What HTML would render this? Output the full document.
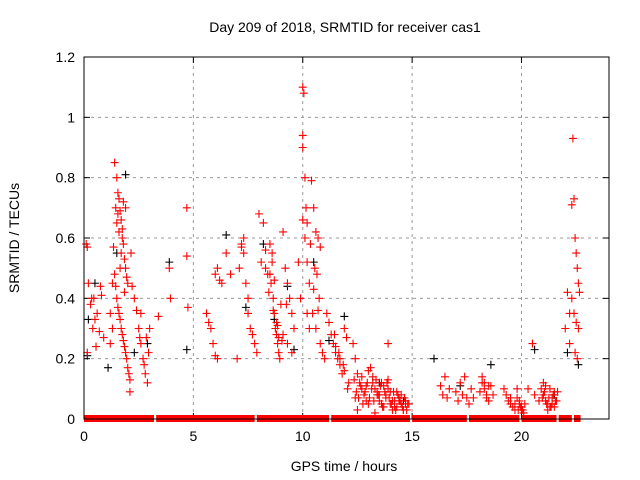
<!DOCTYPE html>
<html><head><meta charset="utf-8"><style>
body{margin:0;background:#fff}
svg{display:block;font-family:"Liberation Sans",sans-serif}
</style></head><body>
<svg id="chart" width="640" height="480" viewBox="0 0 640 480">
<text x="345" y="32" font-size="14" text-anchor="middle">Day 209 of 2018, SRMTID for receiver cas1</text>
<text x="344" y="471" font-size="14" text-anchor="middle">GPS time / hours</text>
<text transform="translate(19,238) rotate(-90)" font-size="14" text-anchor="middle">SRMTID / TECUs</text>
<g id="grid"></g>
<g id="ticks"></g>
<g id="marks"></g>
<rect x="84" y="57" width="525" height="362" fill="none" stroke="#000" stroke-width="1"/>
</svg>
<script>
const xTicks=[0,5,10,15,20];
const yTicks=[0,0.2,0.4,0.6,0.8,1,1.2];
const yTickLabels=["0","0.2","0.4","0.6","0.8","1","1.2"];
const zeroRuns=[[0,3.2],[3.3,7.8],[7.9,11.2],[11.3,14.9],[15,17.5],[17.6,19.9],[20,21.6],[21.7,22.3],[22.4,22.7]];
const redEarly=[[0.1,0.58],[0.15,0.57],[0.2,0.45],[0.3,0.38],[0.35,0.40],[0.4,0.30],[0.5,0.33],[0.55,0.24],[0.6,0.35],[0.7,0.29],[0.75,0.44],[0.8,0.41],[0.9,0.27],[0.15,0.22],[0.45,0.40],
[1.2,0.25],[1.3,0.30],[1.4,0.85],[1.45,0.70],[1.5,0.80],[1.5,0.65],[1.55,0.75],[1.6,0.73],[1.6,0.62],[1.65,0.69],[1.7,0.66],[1.7,0.55],[1.75,0.60],[1.8,0.58],[1.8,0.72],[1.85,0.53],[1.9,0.50],[1.9,0.70],[1.95,0.47],[2.0,0.45],
[1.4,0.48],[1.45,0.44],[1.5,0.40],[1.55,0.37],[1.6,0.35],[1.65,0.33],[1.7,0.30],[1.75,0.28],[1.8,0.26],[1.85,0.24],[1.9,0.22],[1.95,0.20],[2.0,0.17],[2.05,0.15],[2.1,0.13],[1.3,0.45],[1.35,0.57],[1.2,0.35],[2.1,0.09],[2.15,0.55],
[1.55,0.68],[1.75,0.63],[1.85,0.42],[1.65,0.50],
[2.2,0.44],[2.3,0.40],[2.4,0.36],[2.5,0.30],[2.55,0.27],[2.6,0.25],[2.7,0.20],[2.75,0.18],[2.8,0.15],[2.9,0.12],[2.95,0.22],[3.0,0.30],[2.6,0.35],[2.85,0.27],[3.4,0.34],[3.9,0.50],[3.95,0.40],[4.7,0.70],[4.7,0.54],[4.75,0.37]];
const redMid=[[5.6,0.35],[5.7,0.32],[5.8,0.30],[5.9,0.25],[6.0,0.21],[6.0,0.48],[6.1,0.20],[6.1,0.50],[6.2,0.46],[6.3,0.45],[6.5,0.55],[6.7,0.48],[7.0,0.20],[7.1,0.50],[7.2,0.57],[7.3,0.55],[7.3,0.60],[7.4,0.45],[7.5,0.35],[7.6,0.30],[7.7,0.28],[7.8,0.25],[7.9,0.22],[7.5,0.40],[7.2,0.58],
[8.0,0.68],[8.1,0.52],[8.2,0.65],[8.3,0.50],[8.4,0.48],[8.5,0.58],[8.55,0.45],[8.6,0.55],[8.65,0.40],[8.7,0.35],[8.75,0.30],[8.8,0.28],[8.85,0.25],[8.9,0.22],[8.95,0.20],[9.0,0.38],[8.3,0.56],[8.5,0.48],[8.6,0.52],[8.7,0.46],[8.8,0.32],[8.9,0.27],
[8.45,0.42],[8.65,0.36],[8.85,0.31],[9.05,0.26],[9.25,0.38],
[9.1,0.62],[9.2,0.50],[9.3,0.45],[9.4,0.40],[9.5,0.35],[9.6,0.30],[9.1,0.28],[9.3,0.25],[9.5,0.22],[9.8,0.52],[9.9,0.40],
[10.0,1.10],[10.05,1.08],[10.0,0.94],[10.0,0.90],[10.1,0.80],[10.15,0.70],[10.2,0.65],[10.1,0.60],[10.2,0.52],[10.3,0.45],[10.0,0.66],[10.2,0.35],[10.3,0.30],
[10.4,0.79],[10.5,0.70],[10.6,0.62],[10.7,0.60],[10.8,0.57],[10.55,0.50],[10.65,0.48],[10.75,0.40],[10.45,0.35],[10.6,0.30],[10.8,0.25],[10.9,0.22],[11.0,0.20],
[10.35,0.58],[10.5,0.43],[10.7,0.36],
[11.1,0.35],[11.2,0.32],[11.3,0.28],[11.4,0.25],[11.5,0.22],[11.6,0.20],[11.7,0.18],[11.8,0.15],[11.9,0.30],[12.0,0.27],[11.5,0.24],[11.7,0.20],[11.9,0.16],[12.1,0.12],
[11.45,0.28],[11.65,0.22],[11.85,0.18],[12.05,0.10]];
const redDense=[[12.3,0.25],[12.4,0.20],[12.5,0.15],[12.6,0.12],[12.7,0.10],[12.8,0.08],[12.9,0.06],[13.0,0.05],[12.5,0.03],[12.7,0.14],[12.9,0.11],
[13.1,0.17],[13.2,0.12],[13.3,0.10],[13.4,0.08],[13.5,0.06],[13.6,0.05],[13.7,0.04],[13.8,0.08],[13.9,0.10],[14.0,0.05],[14.1,0.03],[14.2,0.06],[14.3,0.04],[14.4,0.07],[14.5,0.05],[14.6,0.03],[14.7,0.06],[14.8,0.05],
[13.2,0.14],[13.4,0.09],[13.6,0.12],[13.8,0.07],[14.0,0.09],[14.2,0.04],[14.4,0.06],[14.6,0.03],[13.3,0.02],[13.5,0.08],[13.7,0.11],[13.9,0.13],[14.1,0.06],[14.3,0.09],[14.5,0.08],[14.7,0.05],[12.4,0.07],[13.0,0.16],[13.9,0.25],
[12.35,0.13],[12.45,0.09],[12.55,0.07],[12.65,0.11],[12.75,0.05],[12.85,0.09],[12.95,0.12],[13.05,0.07],[13.15,0.10],[13.25,0.06],[13.35,0.13],[13.45,0.08],[13.55,0.11],[13.65,0.04],[13.75,0.09],[13.85,0.12],[13.95,0.07],[14.05,0.05],[14.15,0.09],[14.25,0.03],[14.35,0.08],[14.45,0.06],[14.55,0.04],[14.65,0.07],[14.75,0.03],[14.85,0.05]];
const redLate=[[16.3,0.11],[16.5,0.14],[16.7,0.10],[16.4,0.08],[16.6,0.07],[17.0,0.09],[17.2,0.12],[17.5,0.07],[17.7,0.10],[17.4,0.14],[17.6,0.05],[17.3,0.08],
[17.1,0.06],[17.8,0.07],[18.1,0.09],[18.3,0.12],[18.5,0.11],[18.7,0.08],
[18.2,0.12],[18.3,0.10],[18.4,0.08],[18.5,0.06],[18.6,0.11],[18.2,0.14],[18.4,0.07],
[19.2,0.10],[19.3,0.08],[19.4,0.06],[19.5,0.05],[19.6,0.04],[19.7,0.03],[19.8,0.07],[19.9,0.05],[20.0,0.03],[20.1,0.02],[19.8,0.10],[19.9,0.06],[20.0,0.04],
[19.5,0.07],[19.7,0.05],[19.85,0.03],[19.95,0.04],[20.05,0.03],[20.15,0.05],
[20.5,0.25],[20.9,0.10],[21.0,0.08],[21.1,0.06],[21.2,0.05],[21.3,0.04],[21.4,0.07],[21.5,0.09],[21.6,0.06],[21.0,0.12],[21.2,0.03],[21.4,0.05],[20.3,0.10],[20.6,0.08],[20.8,0.06],
[21.05,0.09],[21.15,0.05],[21.25,0.07],[21.35,0.04],[21.45,0.08],[21.55,0.06],[21.65,0.09],[20.95,0.07],[21.1,0.11],[21.3,0.10],[21.5,0.04],
[22.0,0.30],[22.1,0.42],[22.2,0.35],[22.3,0.71],[22.35,0.93],[22.4,0.73],[22.45,0.60],[22.5,0.55],[22.55,0.50],[22.6,0.45],[22.65,0.42],[22.3,0.40],[22.4,0.35],[22.5,0.32],[22.6,0.30],[22.2,0.25],[22.45,0.22],[22.55,0.20]];
const blackPoints=[[0.15,0.21],[0.2,0.33],[0.5,0.45],[1.1,0.17],[1.5,0.55],[1.9,0.81],[2.3,0.22],[2.9,0.25],[3.9,0.52],[4.7,0.23],[6.5,0.61],[7.4,0.37],[8.2,0.58],[8.7,0.33],[9.3,0.44],[9.6,0.23],[10.5,0.52],[11.2,0.26],[11.9,0.34],[13.5,0.12],[14.6,0.06],[16.0,0.20],[17.2,0.11],[18.6,0.18],[20.6,0.23],[21.5,0.08],[22.1,0.22],[22.6,0.18]];

const X0=84,X1=609,Y0=419,Y1=57;
const xS=h=>X0+h/24*(X1-X0);
const yS=v=>Y0-v/1.2*(Y0-Y1);
const NS="http://www.w3.org/2000/svg";
const grid=document.getElementById('grid'),ticks=document.getElementById('ticks'),marks=document.getElementById('marks');
function mk(tag,attrs,parent){const e=document.createElementNS(NS,tag);for(const k in attrs)e.setAttribute(k,attrs[k]);parent.appendChild(e);return e;}
yTicks.forEach((v,i)=>{const y=yS(v);
 if(i>0&&i<yTicks.length-1){const g=mk('line',{x1:X0,x2:X1,y1:y,y2:y,stroke:'#999','stroke-dasharray':'3,4'},grid);
 
 }
 mk('line',{x1:X0,x2:X0+6,y1:y,y2:y,stroke:'#000'},ticks);
 mk('line',{x1:X1,x2:X1-6,y1:y,y2:y,stroke:'#000'},ticks);
 const t=mk('text',{x:X0-9,y:y+5,'font-size':14,'text-anchor':'end'},ticks);t.textContent=yTickLabels[i];
 
 
});
xTicks.forEach(h=>{const x=xS(h);
 if(h>0){const g=mk('line',{x1:x,x2:x,y1:Y0,y2:Y1,stroke:'#999','stroke-dasharray':'3,4'},grid);
 
 }
 mk('line',{x1:x,x2:x,y1:Y0,y2:Y0-6,stroke:'#000'},ticks);
 mk('line',{x1:x,x2:x,y1:Y1,y2:Y1+6,stroke:'#000'},ticks);
 const t=mk('text',{x:x,y:Y0+22,'font-size':14,'text-anchor':'middle'},ticks);t.textContent=String(h);
 
 
});
function cross(h,v,color,name){const x=xS(h),y=yS(v);
 const p=mk('path',{d:`M${x-4} ${y}H${x+4}M${x} ${y-4}V${y+4}`,stroke:color,'stroke-width':1.1,fill:'none'},marks);
 
 }
blackPoints.forEach(p=>cross(p[0],p[1],'#000','black-point'));
zeroRuns.forEach(r=>{const x=xS(r[0]),w=xS(r[1])-x;
 const b=mk('rect',{x:x,y:Y0-4,width:w,height:7,fill:'#f00'},marks);
 
 });
[redEarly,redMid,redDense,redLate].forEach(arr=>arr.forEach(p=>cross(p[0],p[1],'#f00','red-point')));
</script>
</body></html>
